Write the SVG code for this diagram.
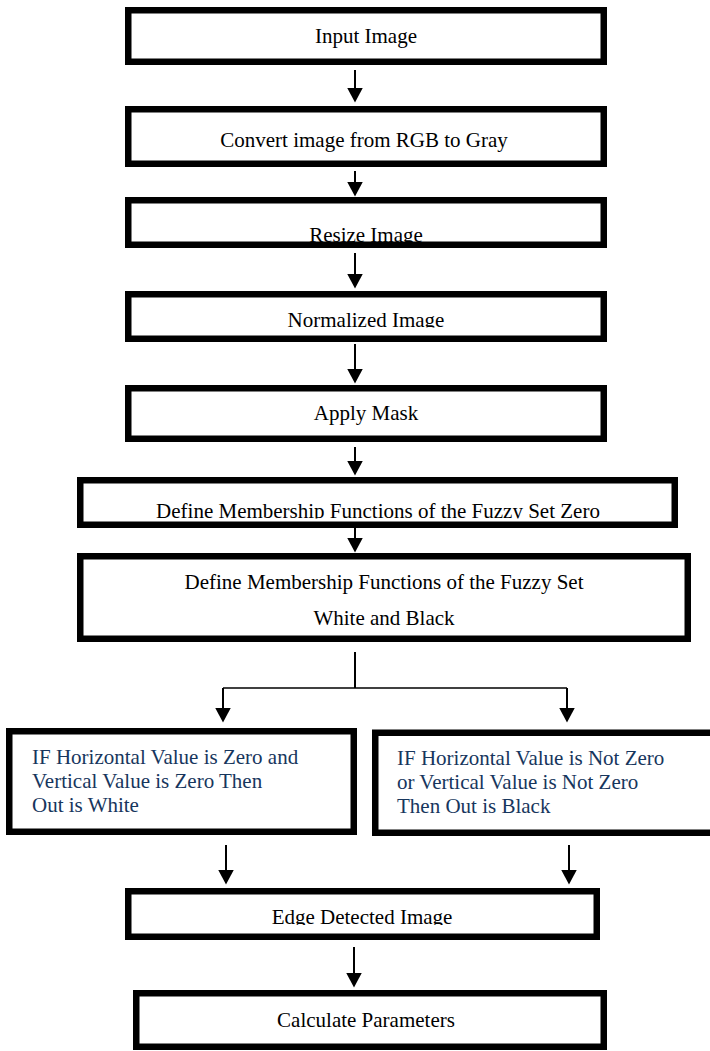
<svg xmlns="http://www.w3.org/2000/svg" width="710" height="1051" viewBox="0 0 710 1051">
<style>
.box{fill:none;stroke:#000;stroke-width:6.5}
.t{font-family:"Liberation Serif","Times New Roman",serif;font-size:21px;fill:#000;text-anchor:middle}
.tl{font-family:"Liberation Serif","Times New Roman",serif;font-size:21px;fill:#17365D}
.c{fill:none;stroke:#000;stroke-width:2}
.h{fill:none;stroke:#000;stroke-width:1.5}
</style>
<defs>
<marker id="ah" markerUnits="userSpaceOnUse" viewBox="0 0 15 16" markerWidth="15" markerHeight="16" refX="0.5" refY="8" orient="auto">
<path d="M0,0 L15,8 L0,16 z" fill="#000"/>
</marker>
<clipPath id="c3"><rect x="0" y="200" width="710" height="42.5"/></clipPath>
<clipPath id="c4"><rect x="0" y="294" width="710" height="33.5"/></clipPath>
<clipPath id="c6"><rect x="0" y="480" width="710" height="38.5"/></clipPath>
<clipPath id="c10"><rect x="0" y="891" width="710" height="34"/></clipPath>
</defs>
<rect width="710" height="1051" fill="#fff"/>
<g id="connectors">
<path class="c" d="M355,70 V88" marker-end="url(#ah)"/>
<path class="c" d="M355,171 V182" marker-end="url(#ah)"/>
<path class="c" d="M355,253 V274" marker-end="url(#ah)"/>
<path class="c" d="M355,344 V369" marker-end="url(#ah)"/>
<path class="c" d="M355,447 V461" marker-end="url(#ah)"/>
<path class="c" d="M355,528 V538" marker-end="url(#ah)"/>
<path class="c" d="M355,652 V688"/>
<path class="h" d="M223,688 H567"/>
<path class="c" d="M223,688 V708" marker-end="url(#ah)"/>
<path class="c" d="M567,688 V708" marker-end="url(#ah)"/>
<path class="c" d="M226,845 V870" marker-end="url(#ah)"/>
<path class="c" d="M569,845 V870" marker-end="url(#ah)"/>
<path class="c" d="M354,947 V973" marker-end="url(#ah)"/>
</g>
<g id="n1">
<text class="t" x="366" y="43">Input Image</text>
<rect class="box" x="128.25" y="10.25" width="475.5" height="51.5"/>
</g>
<g id="n2">
<text class="t" x="364" y="147">Convert image from RGB to Gray</text>
<rect class="box" x="128.25" y="109.25" width="475.5" height="54.5"/>
</g>
<g id="n3">
<text class="t" x="366" y="242" clip-path="url(#c3)">Resize Image</text>
<rect class="box" x="128.25" y="200.25" width="475.5" height="44.5"/>
</g>
<g id="n4">
<text class="t" x="366" y="327" clip-path="url(#c4)">Normalized Image</text>
<rect class="box" x="128.25" y="294.25" width="475.5" height="44.5"/>
</g>
<g id="n5">
<text class="t" x="366" y="420">Apply Mask</text>
<rect class="box" x="128.25" y="388.25" width="475.5" height="50.5"/>
</g>
<g id="n6">
<text class="t" x="378" y="518" clip-path="url(#c6)">Define Membership Functions of the Fuzzy Set Zero</text>
<rect class="box" x="80.25" y="480.25" width="594.5" height="44.5"/>
</g>
<g id="n7">
<text class="t" x="384" y="589">Define Membership Functions of the Fuzzy Set</text>
<text class="t" x="384" y="625">White and Black</text>
<rect class="box" x="80.25" y="556.25" width="607.5" height="82.5"/>
</g>
<g id="n8">
<text class="tl" x="32" y="764">IF Horizontal Value is Zero and</text>
<text class="tl" x="32" y="788">Vertical Value is Zero Then</text>
<text class="tl" x="32" y="812">Out is White</text>
<rect class="box" x="9.25" y="731.25" width="344.5" height="100.5"/>
</g>
<g id="n9">
<text class="tl" x="397" y="765">IF Horizontal Value is Not Zero</text>
<text class="tl" x="397" y="789">or Vertical Value is Not Zero</text>
<text class="tl" x="397" y="813">Then Out is Black</text>
<rect class="box" x="375.25" y="732.75" width="340" height="100"/>
</g>
<g id="n10">
<text class="t" x="362" y="924" clip-path="url(#c10)">Edge Detected Image</text>
<rect class="box" x="128.25" y="891.25" width="468.5" height="45.5"/>
</g>
<g id="n11">
<text class="t" x="366" y="1027">Calculate Parameters</text>
<rect class="box" x="136.25" y="993.25" width="467.5" height="53.5"/>
</g>
</svg>
